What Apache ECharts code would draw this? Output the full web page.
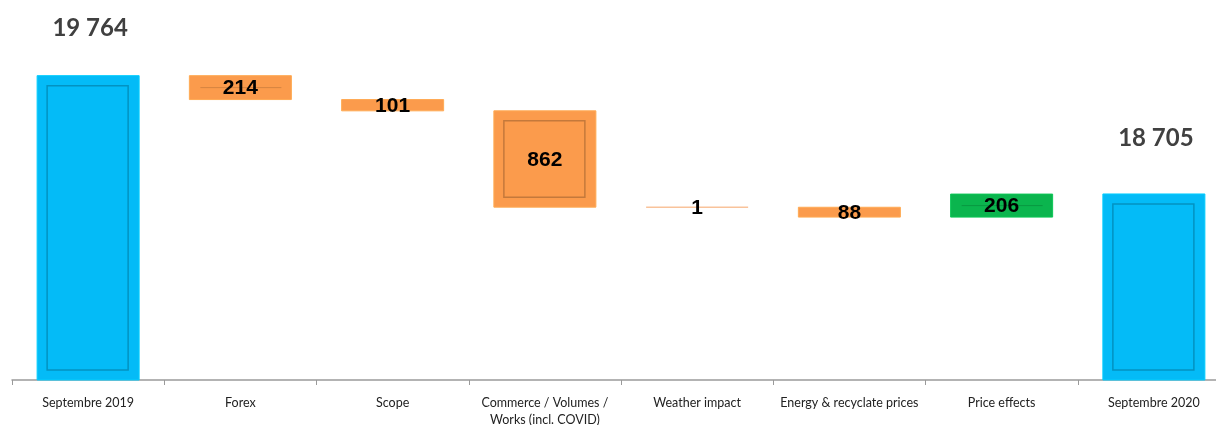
<!DOCTYPE html>
<html>
<head>
<meta charset="utf-8">
<style>
  html, body { margin: 0; padding: 0; background: #fff; }
  #chart { width: 1216px; height: 425px; }
</style>
<script src="https://cdn.jsdelivr.net/npm/echarts@6/dist/echarts.min.js"></script>
</head>
<body>
<div id="chart"></div>
<script>
// categories on the x axis
const categories = [
  'Septembre 2019',
  'Forex',
  'Scope',
  'Commerce / Volumes /\nWorks (incl. COVID)',
  'Weather impact',
  'Energy & recyclate prices',
  'Price effects',
  'Septembre 2020'
]
// totals and the changes between them
const startValue = 19764
const endValue = 18705
const deltas = [-214, -101, -862, -1, -88, 206]

const yMin = 17040
const yMax = 20441

const BLUE = '#04bbf7'
const ORANGE = '#fb9b4c'
const GREEN = '#0bb54e'

// build the waterfall rows: [index, low, high, kind, label]
let rows = []
rows.push([0, yMin, startValue, 'total', '19 764'])
let running = startValue
deltas.forEach((d, i) => {
  let next = running + d
  rows.push([i + 1, Math.min(running, next), Math.max(running, next), d < 0 ? 'down' : 'up', String(Math.abs(d))])
  running = next
})
rows.push([categories.length - 1, yMin, endValue, 'total', '18 705'])

function shade(hex, k) {
  let n = parseInt(hex.slice(1), 16)
  let r = Math.round(((n >> 16) & 255) * k)
  let g = Math.round(((n >> 8) & 255) * k)
  let b = Math.round((n & 255) * k)
  return 'rgb(' + Math.min(r, 255) + ',' + Math.min(g, 255) + ',' + Math.min(b, 255) + ')'
}

function renderItem(params, api) {
  let idx = api.value(0)
  let lo = api.value(1)
  let hi = api.value(2)
  let row = rows[params.dataIndex]
  let kind = row[3]
  let pTop = api.coord([idx, hi])
  let pBot = api.coord([idx, lo])
  let w = api.size([1, 0])[0] * 0.67
  let x = pTop[0] - w / 2
  let y = pTop[1]
  let h = pBot[1] - pTop[1]
  let color = kind === 'total' ? BLUE : (kind === 'up' ? GREEN : ORANGE)
  let children = []
  if (h < 1.5) {
    // tiny change drawn as a thin line
    children.push({
      type: 'rect',
      shape: { x: x, y: y - 0.75, width: w, height: 1.5 },
      style: { fill: '#f9c39b' }
    })
  } else {
    children.push({
      type: 'rect',
      shape: { x: x, y: y, width: w, height: h },
      style: { fill: color, stroke: shade(color, 1.1), lineWidth: 1 }
    })
    if (h >= 30) {
      children.push({
        type: 'rect',
        shape: { x: x + 10, y: y + 10, width: w - 21, height: h - 20 },
        style: { fill: null, stroke: shade(color, 0.78), lineWidth: 1.5 }
      })
    } else if (h >= 20) {
      // bevel collapses to one line on short bars
      children.push({
        type: 'line',
        shape: { x1: x + 11, y1: y + h / 2, x2: x + w - 10, y2: y + h / 2 },
        style: { stroke: shade(color, 0.85), lineWidth: 1 }
      })
    }
  }
  if (kind === 'total') {
    children.push({
      type: 'text',
      style: {
        text: row[4], x: pTop[0] + 2, y: y - (idx === 0 ? 47 : 56),
        align: 'center', verticalAlign: 'middle',
        font: 'bold 24px Lato', fill: '#404040'
      }
    })
  } else {
    children.push({
      type: 'text',
      style: {
        text: row[4], x: pTop[0], y: y + Math.max(h, 0) / 2 + 1,
        align: 'center', verticalAlign: 'middle',
        font: 'bold 21px "Liberation Sans"', fill: '#000'
      }
    })
  }
  return { type: 'group', children: children }
}

let myChart = echarts.init(document.getElementById('chart'))
let option = {
  animation: false,
  grid: { left: 12, top: 0, width: 1218, bottom: 45, outerBoundsMode: 'none' },
  xAxis: {
    type: 'category',
    data: categories,
    axisLine: { lineStyle: { color: '#9a9a9a', width: 1.5 } },
    axisTick: { show: true, length: 5, lineStyle: { color: '#9a9a9a' } },
    axisLabel: {
      color: '#222',
      fontFamily: 'Lato',
      fontSize: 12.5,
      margin: 14,
      lineHeight: 17,
      interval: 0
    }
  },
  yAxis: {
    type: 'value',
    min: yMin,
    max: yMax,
    show: false,
    splitLine: { show: false }
  },
  series: [
    {
      type: 'custom',
      renderItem: renderItem,
      encode: { x: 0, y: [1, 2] },
      data: rows.map(r => [r[0], r[1], r[2]])
    }
  ]
}
myChart.setOption(option)
window.onresize = myChart.resize
</script>
</body>
</html>
